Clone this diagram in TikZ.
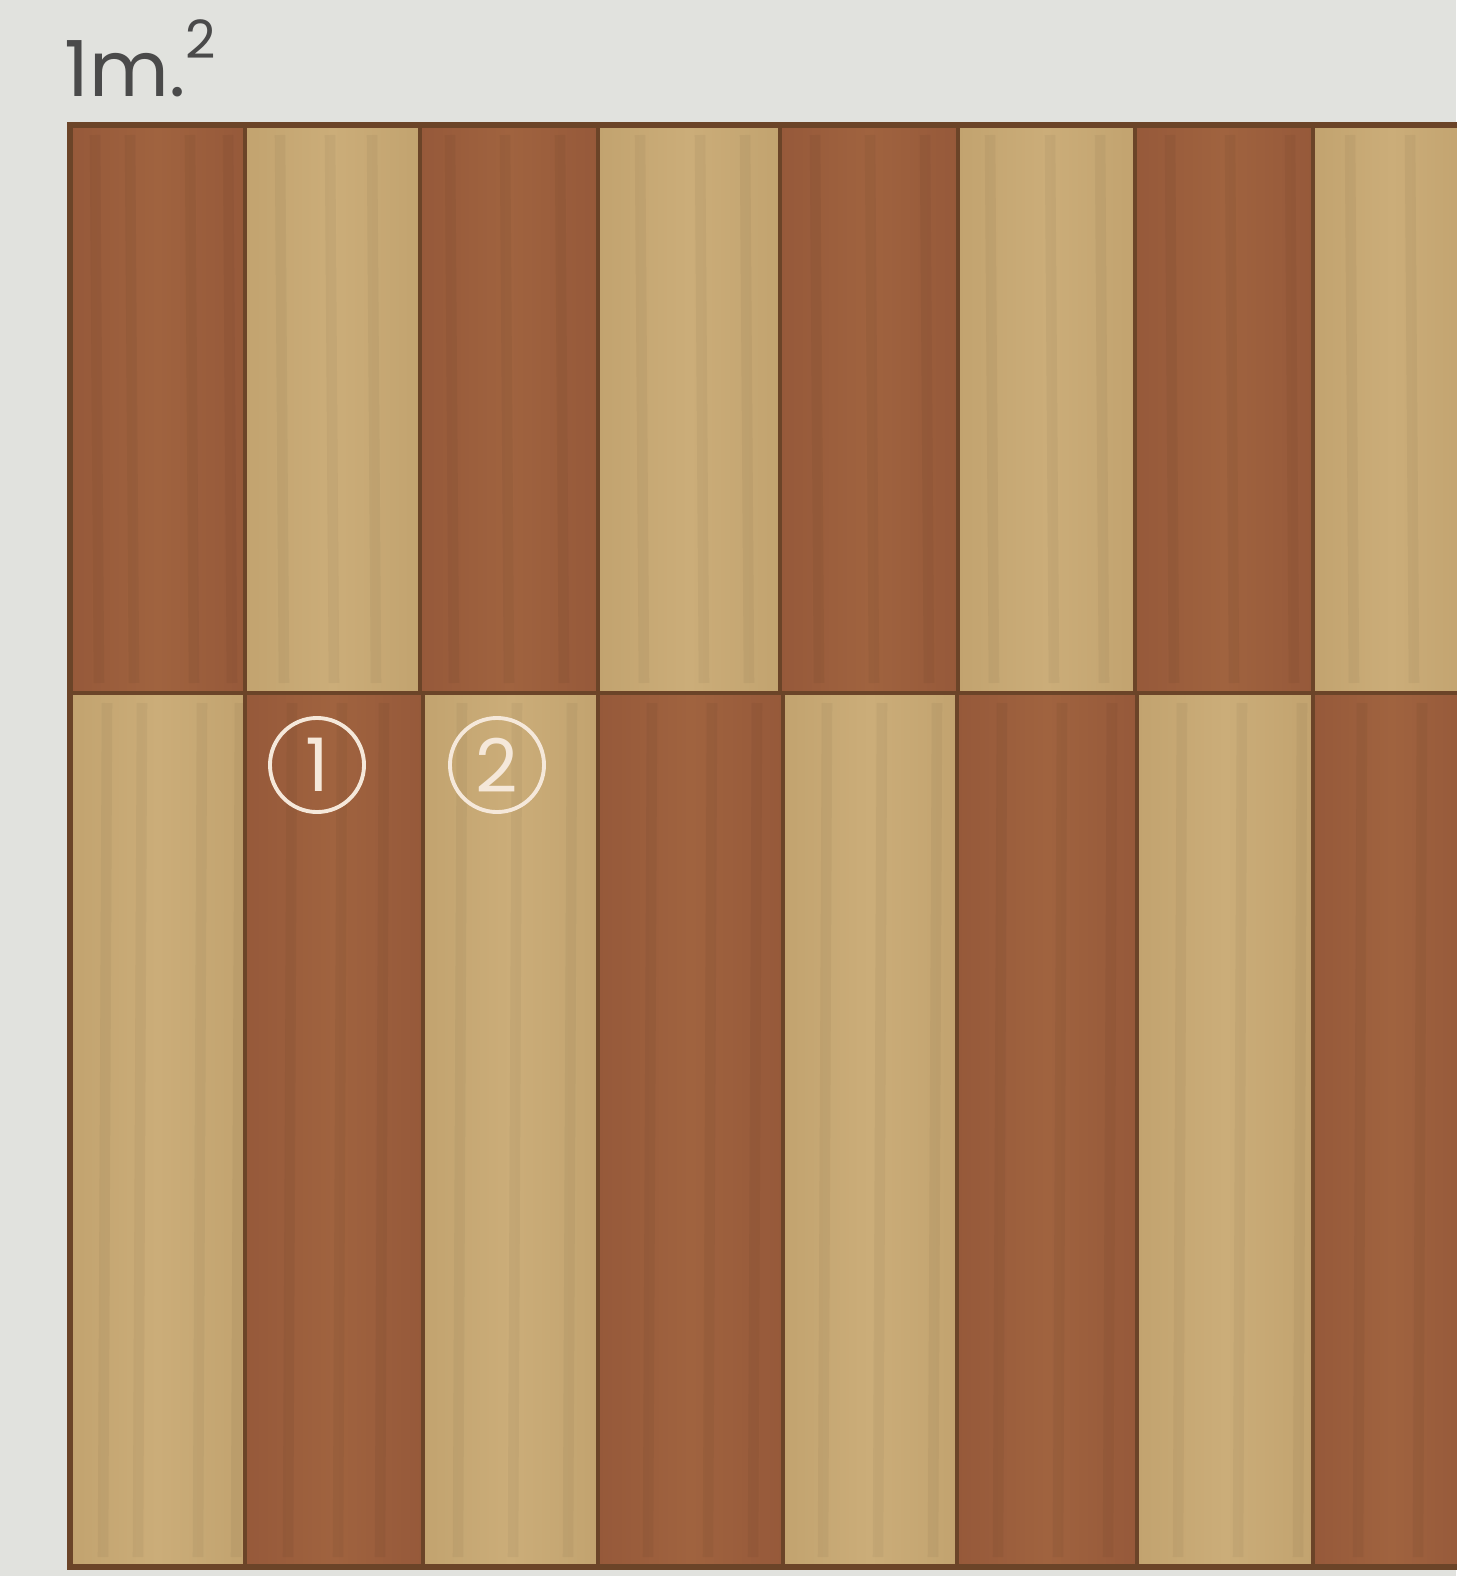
\documentclass[tikz,border=0pt]{standalone}
\usepackage{fontspec}
\newfontfamily\labelfont{Poppins}
\usepackage{tikz}
\usetikzlibrary{positioning, calc}

\definecolor{bggray}{HTML}{E1E2DE}
\definecolor{darkwood}{HTML}{96593A}
\definecolor{darkwoodhi}{HTML}{A0633F}
\definecolor{lightwood}{HTML}{C2A36F}
\definecolor{lightwoodhi}{HTML}{CBAD79}
\definecolor{seam}{HTML}{6B4428}
\definecolor{cream}{HTML}{F5E8DA}
\definecolor{labelgray}{HTML}{4A4A4A}

\tikzset{
  seamline/.style={seam, line width=1.1pt},
  edgeline/.style={seam, line width=1.5pt},
  numcircle/.style={circle, draw=cream, line width=1.1pt, text=cream,
    minimum size=0.94cm, inner sep=0pt, font=\labelfont\fontsize{21}{21}\selectfont},
}

\begin{document}
\begin{tikzpicture}[x=0.01cm, y=-0.01cm]

\useasboundingbox (0,0) rectangle (1456,1576);
\fill[bggray] (0,0) rectangle (1456,1576);

% Top row of boards (starts dark)
\foreach \xa/\xb/\c in {70/245/darkwood, 245/420/lightwood, 420/598/darkwood,
    598/780/lightwood, 780/958/darkwood, 958/1135/lightwood,
    1135/1313/darkwood, 1313/1470/lightwood}
  \shade[left color=\c, right color=\c, middle color=\c hi] (\xa,125) rectangle (\xb,693);

% Bottom row of boards (starts light)
\foreach \xa/\xb/\c in {70/245/lightwood, 245/423/darkwood, 423/598/lightwood,
    598/783/darkwood, 783/957/lightwood, 957/1137/darkwood,
    1137/1313/lightwood, 1313/1470/darkwood}
  \shade[left color=\c, right color=\c, middle color=\c hi] (\xa,693) rectangle (\xb,1567);

% Grain streaks
\foreach \gx in {95,130,190,228,280,330,372,450,505,560,640,700,745,815,870,925,
    990,1050,1100,1170,1230,1290,1350,1410}
{
  \draw[black, opacity=0.04, line width=3pt] (\gx,135) -- (\gx+4,683);
  \draw[black, opacity=0.04, line width=3pt] (\gx+12,703) -- (\gx+8,1557);
}

% Seams between boards
\foreach \sx in {245,420,598,780,958,1135,1313}
  \draw[seamline] (\sx,125) -- (\sx,693);
\foreach \sx in {245,423,598,783,957,1137,1313}
  \draw[seamline] (\sx,693) -- (\sx,1567);
\draw[seamline] (70,693) -- (1470,693);

% Outline (cut at the right)
\draw[edgeline] (1470,125) -- (70,125) -- (70,1567) -- (1470,1567);

% Labels
\node[anchor=base west, inner sep=0pt, text=labelgray,
  font=\labelfont\fontsize{22}{22}\selectfont] (area) at (64,97)
  {1m.\raisebox{0.5em}{\fontsize{15}{15}\selectfont 2}};
\node[numcircle] (board1) at (317,765) {1};
\node[numcircle] (board2) at (497,765) {2};

\end{tikzpicture}
\end{document}
